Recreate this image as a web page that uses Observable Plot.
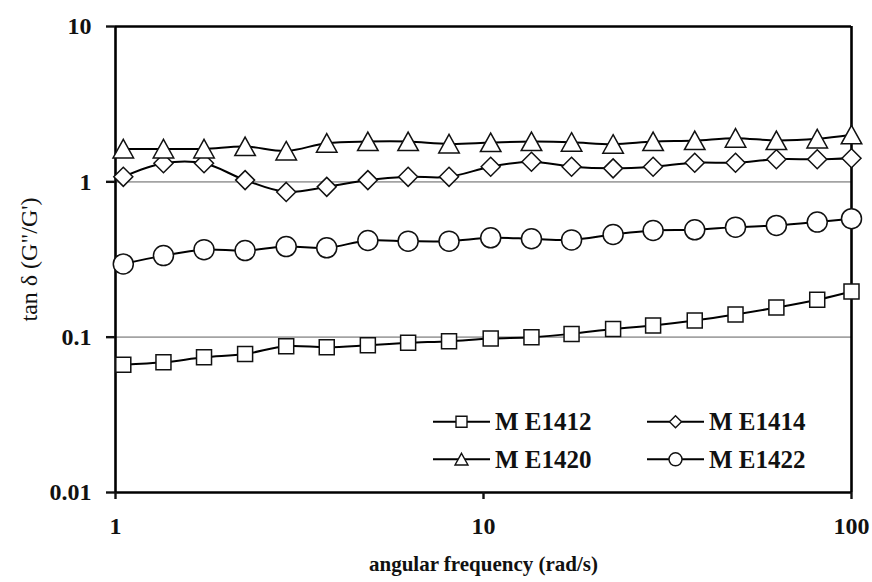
<!DOCTYPE html>
<html><head><meta charset="utf-8">
<script src="https://cdn.jsdelivr.net/npm/d3@7"></script>
<script src="https://cdn.jsdelivr.net/npm/@observablehq/plot@0.6"></script>
<style>
body{margin:0;background:#fff;}
#wrap{position:relative;width:872px;height:582px;}
#wrap svg{display:block;}
#legend{position:absolute;left:0;top:0;pointer-events:none;}
</style></head><body>
<div id="wrap"></div>
<script>
// angular frequency (rad/s)
const freq = [1.05,1.35,1.74,2.25,2.91,3.75,4.85,6.24,8.06,10.46,13.5,17.35,22.5,28.9,37.5,48.4,62.5,80.7,100];
// tan delta values per sample
const mE1412 = [0.0665,0.0689,0.0742,0.078,0.0874,0.0861,0.0887,0.0919,0.0942,0.0981,0.100,0.105,0.113,0.119,0.128,0.140,0.155,0.174,0.197];
const mE1414 = [1.077,1.316,1.316,1.026,0.861,0.928,1.026,1.077,1.077,1.251,1.348,1.251,1.221,1.251,1.328,1.328,1.397,1.397,1.418];
const mE1420 = [1.629,1.629,1.629,1.686,1.581,1.774,1.816,1.816,1.755,1.789,1.816,1.80,1.747,1.816,1.844,1.911,1.844,1.891,2.007];
const mE1422 = [0.296,0.335,0.366,0.361,0.383,0.376,0.419,0.415,0.415,0.436,0.430,0.423,0.458,0.486,0.491,0.511,0.524,0.551,0.579];
const seriesNames = ["M E1412","M E1414","M E1420","M E1422"];
const xTicks = [1,10,100];
const yTicks = [0.01,0.1,1,10];
const gridY = [0.1,1];
const xTitle = "angular frequency (rad/s)";
const yTitle = "tan δ (G\"/G')";

// custom symbols (Excel-like)
const symSquare = {draw(c,size){const s=Math.sqrt(size/Math.PI); c.rect(-s,-s,2*s,2*s);}};
const symDiamond = {draw(c,size){const s=Math.sqrt(size/Math.PI); c.moveTo(0,-s);c.lineTo(s,0);c.lineTo(0,s);c.lineTo(-s,0);c.closePath();}};
const symTriangle = {draw(c,size){const s=Math.sqrt(size/Math.PI); c.moveTo(0,-s);c.lineTo(s*1.08,s*0.95);c.lineTo(-s*1.08,s*0.95);c.closePath();}};
const symCircle = {draw(c,size){const s=Math.sqrt(size/Math.PI); c.moveTo(s,0); c.arc(0,0,s,0,2*Math.PI); c.closePath();}};

const allValues = [mE1412,mE1414,mE1420,mE1422];
const symbols = [symSquare,symDiamond,symTriangle,symCircle];
const radii = [7.5,9.5,9.5,10];
const tables = allValues.map((vals,i)=>freq.map((f,j)=>({f, v: vals[j], s: seriesNames[i]})));

const font = "'Liberation Serif', 'Times New Roman', serif";
const fmt = d => String(+d.toPrecision(3));
const marks = [
  Plot.ruleY(gridY, {stroke:"#a3a3a3", strokeWidth:1.6}),
  Plot.ruleY([10], {stroke:"#000", strokeWidth:2.6}),
  Plot.ruleX([100], {stroke:"#000", strokeWidth:2.6}),
  Plot.ruleX([1], {stroke:"#000", strokeWidth:2.6}),
  Plot.ruleY([0.01], {stroke:"#000", strokeWidth:2.6}),
  Plot.axisX({ticks:xTicks, tickFormat:fmt, tickSize:7, tickPadding:17, strokeWidth:2.4, fontSize:24, fontWeight:"bold", fontFamily:font, label:null}),
  Plot.axisY({ticks:yTicks, tickFormat:fmt, tickSize:9, tickPadding:15, strokeWidth:2.4, fontSize:24, fontWeight:"bold", fontFamily:font, label:null}),
  Plot.text([xTitle], {frameAnchor:"bottom", dy:72, fontSize:21, fontWeight:"bold", fontFamily:font, fill:"#111", lineAnchor:"middle", textAnchor:"middle"}),
  Plot.text([yTitle], {frameAnchor:"left", dx:-86, rotate:-90, fontSize:24, fontFamily:font, fill:"#111", lineAnchor:"middle", textAnchor:"middle"})
];
tables.forEach((t,i)=>{
  marks.push(Plot.line(t, {x:"f", y:"v", stroke:"#000", strokeWidth:2, curve:"catmull-rom"}));
  marks.push(Plot.dot(t, {x:"f", y:"v", symbol:()=>symbols[i], r:radii[i], fill:"#fff", stroke:"#111", strokeWidth:1.5}));
});

const chart = Plot.plot({
  width:872, height:582,
  marginLeft:115, marginRight:21, marginTop:26, marginBottom:90,
  style:{fontFamily:font, color:"#111", background:"#fff", overflow:"visible"},
  x:{type:"log", domain:[1,100]},
  y:{type:"log", domain:[0.01,10]},
  symbol:{type:"identity"},
  marks
});
const wrap = document.getElementById("wrap");
wrap.appendChild(chart);

// legend overlay
const leg = d3.select(wrap).append("svg").attr("id","legend").attr("width",872).attr("height",582);
const legItems = [
  {name:seriesNames[0], sym:symSquare, r:5.5, x0:433, y:421.7},
  {name:seriesNames[1], sym:symDiamond, r:6, x0:647, y:421.7},
  {name:seriesNames[2], sym:symTriangle, r:6, x0:433, y:459.3},
  {name:seriesNames[3], sym:symCircle, r:6.5, x0:647, y:459.3}
];
legItems.forEach(it=>{
  const g = leg.append("g");
  g.append("line").attr("x1",it.x0).attr("x2",it.x0+57).attr("y1",it.y).attr("y2",it.y).attr("stroke","#000").attr("stroke-width",2);
  g.append("path").attr("d", d3.symbol(it.sym, it.r*it.r*Math.PI)()).attr("transform",`translate(${it.x0+28.5},${it.y})`).attr("fill","#fff").attr("stroke","#111").attr("stroke-width",1.4);
  g.append("text").attr("x",it.x0+62).attr("y",it.y+8.5).attr("font-family",font).attr("font-weight","bold").attr("font-size",25).attr("fill","#111").text(it.name);
});
</script>
</body></html>
